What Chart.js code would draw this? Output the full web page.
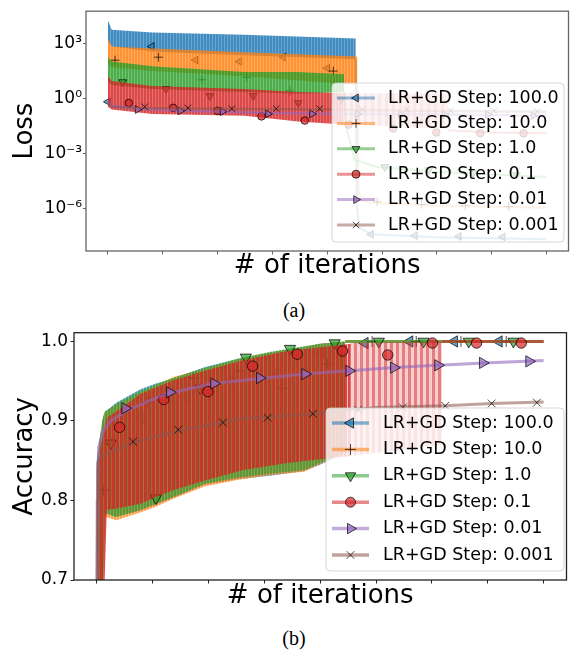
<!DOCTYPE html>
<html>
<head>
<meta charset="utf-8">
<script src="https://cdn.jsdelivr.net/npm/chart.js@4.4.1/dist/chart.umd.min.js"></script>
<style>
  body { margin: 0; background: #fff; }
  #fig { position: relative; width: 574px; height: 653px; overflow: hidden; }
  #lossChart { position: absolute; left: 0; top: 0; }
  #accChart { position: absolute; left: 0; top: 320px; }
  .cap { position: absolute; left: 0; width: 588px; text-align: center; font: 20px "Liberation Serif", "Times New Roman", serif; line-height: 24px; color: #000; }
</style>
</head>
<body>
<div id="fig">
  <canvas id="lossChart" width="574" height="282"></canvas>
  <div class="cap" style="top:298px">(a)</div>
  <canvas id="accChart" width="574" height="292"></canvas>
  <div class="cap" style="top:626px">(b)</div>
</div>
<script>
// ---- labels / ticks ----
const seriesLabels = ['LR+GD Step: 100.0', 'LR+GD Step: 10.0', 'LR+GD Step: 1.0',
                      'LR+GD Step: 0.1', 'LR+GD Step: 0.01', 'LR+GD Step: 0.001'];
const iterTicks = [0, 1, 2, 3, 4, 5, 6, 7, 8];
const lossTicks = [1e-6, 1e-3, 1, 1e3];
const lossTickLabels = ['10⁻⁶', '10⁻³', '10⁰', '10³'];
const accTicks = [0.7, 0.8, 0.9, 1.0];

// ---- (a) loss ----
const lossBlueBandX = [0, 0.07, 0.81, 2.49, 4.52];
const lossBlueHigh = [1.9e4, 6.0e3, 4.2e3, 3.2e3, 2.0e3];
const lossBlueLow = [1.4e3, 7.3e2, 3.9e2, 2.4e2, 1.45e2];
const lossBlueTailX = [4.52, 4.54, 4.58, 4.8, 6.0, 8.0];
const lossBlueTail = [1.45e2, 1.7e-6, 9.3e-8, 3.9e-8, 2.7e-8, 2.1e-8];
const lossBlueMarkX = [0, 0.8, 1.6, 2.4, 3.2, 4.0, 4.8, 5.6, 6.4, 7.2];
const lossBlueMark = [0.69, 7.3e2, 1.3e2, 1.1e2, 1.9e2, 4.7e1, 3.9e-8, 3.3e-8, 3.0e-8, 2.8e-8];

const lossOrangeBandX = [0, 0.07, 0.81, 2.49, 4.55];
const lossOrangeHigh = [2.0e3, 7.3e2, 5.7e2, 3.5e2, 2.1e2];
const lossOrangeLow = [8.9e1, 5.4e1, 3.3e1, 1.7e1, 5.7];
const lossOrangeTailX = [4.55, 4.57, 4.6, 4.8, 6.0, 8.0];
const lossOrangeTail = [5.7, 1.1e-5, 3.1e-6, 2.1e-6, 1.45e-6, 1.1e-6];
const lossOrangeMarkX = [0.13, 0.92, 1.71, 2.53, 3.32, 4.11, 4.91, 5.72, 6.52, 7.31];
const lossOrangeMark = [1.3e2, 1.9e2, 1.1e1, 1.5e1, 2.7, 3.3e1, 2.4e-6, 1.7e-6, 1.45e-6, 1.3e-6];

const lossGreenBandX = [0, 0.07, 0.81, 2.49, 3.47, 4.31];
const lossGreenHigh = [1.9e2, 1.1e2, 6.0e1, 2.9e1, 2.9e1, 2.2e1];
const lossGreenLow = [9.4, 5.7, 3.5, 2.4, 1.9, 2.4];
const lossGreenTailX = [4.31, 4.35, 4.5, 4.91, 6.0, 8.0];
const lossGreenTail = [2.4, 2.7e-2, 4.5e-4, 1.9e-4, 1.0e-4, 5.4e-5];
const lossGreenMarkX = [0.27, 1.06, 1.86, 2.65, 3.47, 4.26, 5.05, 5.85, 6.66, 7.45];
const lossGreenMark = [8.3, 3.5, 1.45, 1.45, 0.6, 0.9, 1.9e-4, 1.3e-4, 8.9e-5, 6.9e-5];

const lossRedBandX = [0, 0.07, 0.81, 2.49, 3.47, 4.3];
const lossRedHigh = [1.7e1, 9.4, 5.0, 3.5, 2.4, 2.1];
const lossRedLow = [0.37, 0.26, 0.15, 0.12, 5.7e-2, 3.9e-2];
const lossRedSparseX = [4.3, 6.2];
const lossRedSparseHigh = [2.1, 1.9];
const lossRedSparseLow = [3.9e-2, 2.4e-2];
const lossRedTailX = [6.2, 7.0, 8.0];
const lossRedTail = [1.9e-2, 1.45e-2, 1.3e-2];
const lossRedMarkX = [0.38, 1.19, 2.0, 2.8, 3.59, 4.39, 5.2, 5.99, 6.79, 7.58];
const lossRedMark = [0.6, 0.32, 0.22, 0.11, 6.5e-2, 3.9e-2, 2.4e-2, 1.45e-2, 1.3e-2, 1.3e-2];

const lossPurpleX = [0, 0.03, 0.07, 0.5, 1.5, 3.0, 4.5, 6.0, 8.0];
const lossPurple = [0.69, 0.54, 0.42, 0.29, 0.22, 0.17, 0.15, 0.14, 0.12];
const lossPurpleMarkX = [0.54, 1.32, 2.09, 2.92, 3.72, 4.55, 5.34, 6.14, 6.93, 7.76];
const lossPurpleMark = [0.26, 0.22, 0.2, 0.15, 0.15, 0.15, 0.14, 0.14, 0.14, 0.12];

const lossBrownX = [0, 0.03, 0.07, 0.5, 2.0, 4.0, 6.0, 8.0];
const lossBrown = [0.69, 0.48, 0.37, 0.32, 0.29, 0.26, 0.22, 0.2];
const lossBrownMarkX = [0.67, 1.46, 2.26, 3.07, 3.86, 4.64, 5.45, 6.25, 7.04, 7.83];
const lossBrownMark = [0.37, 0.32, 0.29, 0.29, 0.29, 0.26, 0.26, 0.22, 0.22, 0.2];

// ---- (b) accuracy ----
const accBandX = [0, 0.1, 0.14, 0.35, 0.78, 1.06, 1.36, 1.94, 2.54, 3.11, 3.71, 4.0, 4.45];
const accBlueHigh = [0.85, 0.9, 0.91, 0.923, 0.94, 0.947, 0.953, 0.968, 0.978, 0.986, 0.993, 0.997, 1.0];
const accBlueLow = [0.6, 0.6, 0.785, 0.78, 0.787, 0.795, 0.803, 0.82, 0.827, 0.831, 0.837, 0.845, 0.86];
const accOrangeHigh = [0.85, 0.9, 0.91, 0.92, 0.936, 0.945, 0.955, 0.966, 0.978, 0.986, 0.993, 0.997, 1.0];
const accOrangeLow = [0.6, 0.6, 0.78, 0.775, 0.785, 0.792, 0.802, 0.818, 0.826, 0.832, 0.836, 0.846, 0.86];
const accGreenHigh = [0.85, 0.9, 0.912, 0.922, 0.938, 0.946, 0.954, 0.967, 0.979, 0.987, 0.994, 0.997, 1.0];
const accGreenLow = [0.6, 0.6, 0.784, 0.779, 0.788, 0.796, 0.804, 0.821, 0.829, 0.834, 0.838, 0.847, 0.86];
const accTailX = [4.45, 8.0];
const accTail = [1.0, 1.0];

const accRedBandX = [0, 0.1, 0.18, 0.35, 0.78, 1.36, 1.94, 2.6, 3.41, 4.29, 4.55];
const accRedHigh = [0.84, 0.88, 0.904, 0.912, 0.934, 0.951, 0.963, 0.976, 0.988, 0.995, 0.997];
const accRedLow = [0.6, 0.6, 0.788, 0.79, 0.796, 0.813, 0.825, 0.838, 0.847, 0.854, 0.856];
const accRedSparseX = [4.55, 6.18];
const accRedSparseHigh = [0.998, 1.0];
const accRedSparseLow = [0.856, 0.87];
const accRedTailX = [6.18, 8.0];
const accRedTail = [1.0, 1.0];

const accBlueMarkX = [0, 0.8, 1.6, 2.4, 3.2, 4.0, 4.8, 5.6, 6.4, 7.2];
const accBlueMark = [0.6, 0.904, 0.93, 0.95, 0.96, 0.985, 0.998, 1.0, 1.0, 1.0];
const accOrangeMarkX = [0.12, 0.92, 1.73, 2.53, 3.32, 4.13, 4.93, 5.72, 6.52, 7.33];
const accOrangeMark = [0.813, 0.923, 0.954, 0.963, 0.941, 0.972, 1.0, 1.0, 1.0, 1.0];
const accGreenMarkX = [0.25, 1.06, 1.86, 2.67, 3.46, 4.26, 5.05, 5.85, 6.66, 7.46];
const accGreenMark = [0.872, 0.803, 0.941, 0.98, 0.991, 0.998, 1.0, 1.0, 1.0, 1.0];
const accRedMarkX = [0.41, 1.2, 1.99, 2.79, 3.59, 4.4, 5.21, 6.01, 6.8, 7.6];
const accRedMark = [0.892, 0.927, 0.937, 0.969, 0.984, 0.988, 0.983, 0.998, 0.998, 0.998];

const accPurpleX = [0, 0.02, 0.035, 0.12, 0.25, 0.53, 1.24, 2.07, 2.6, 3.71, 4.52, 5.48, 6.11, 6.94, 8.0];
const accPurple = [0.6, 0.825, 0.867, 0.888, 0.9, 0.913, 0.934, 0.947, 0.951, 0.959, 0.963, 0.968, 0.97, 0.973, 0.976];
const accPurpleMarkX = [0.51, 1.31, 2.1, 2.92, 3.73, 4.52, 5.32, 6.11, 6.91, 7.74];
const accPurpleMark = [0.916, 0.936, 0.947, 0.954, 0.959, 0.963, 0.967, 0.97, 0.973, 0.975];

const accBrownX = [0, 0.01, 0.02, 0.07, 0.18, 0.65, 1.48, 2.24, 2.6, 3.11, 3.88, 5.0, 6.24, 7.07, 8.0];
const accBrown = [0.6, 0.8, 0.847, 0.854, 0.859, 0.873, 0.888, 0.898, 0.903, 0.905, 0.909, 0.917, 0.919, 0.922, 0.924];
const accBrownMarkX = [0.65, 1.46, 2.26, 3.06, 3.87, 4.68, 5.48, 6.24, 7.07, 7.88];
const accBrownMark = [0.874, 0.889, 0.898, 0.904, 0.909, 0.914, 0.917, 0.919, 0.922, 0.923];

// ---- styles ----
const tab = ['31,119,180', '255,127,14', '44,160,44', '214,39,40', '148,103,189', '140,86,75'];
const markerStyles = [
  {style: 'triangle', rotation: -90},
  {style: 'cross', rotation: 0},
  {style: 'triangle', rotation: 180},
  {style: 'circle', rotation: 0},
  {style: 'triangle', rotation: 90},
  {style: 'crossRot', rotation: 0}
];
const FONT = '"DejaVu Sans", sans-serif';
Chart.defaults.font.family = FONT;

const rgba = (rgb, a) => `rgba(${rgb},${a})`;
const pts = (xs, ys) => xs.map((x, i) => ({x: x, y: ys[i]}));

// vertical stripe pattern, mimics the dense oscillating lines
function stripes(rgb, a1, a2, w1, w2) {
  const c = document.createElement('canvas');
  c.width = w1 + w2;
  c.height = 4;
  const g = c.getContext('2d');
  g.fillStyle = rgba(rgb, a1);
  g.fillRect(0, 0, w1, 4);
  g.fillStyle = rgba(rgb, a2);
  g.fillRect(w1, 0, w2, 4);
  return g.createPattern(c, 'repeat');
}

function bandSets(xs, hi, lo, pattern, order) {
  return [
    {data: pts(xs, hi), borderWidth: 0, borderColor: 'transparent', pointRadius: 0,
     backgroundColor: pattern, fill: '+1', order: order},
    {data: pts(xs, lo), borderWidth: 0, borderColor: 'transparent', pointRadius: 0,
     fill: false, order: order}
  ];
}
function lineSet(xs, ys, i, width, alpha, order) {
  return {data: pts(xs, ys), borderColor: rgba(tab[i], alpha), borderWidth: width,
          pointRadius: 0, fill: false, tension: 0, order: order};
}
function markerSet(xs, ys, i, radius, order) {
  const m = markerStyles[i];
  return {data: pts(xs, ys), showLine: false, pointStyle: m.style, pointRotation: m.rotation,
          pointRadius: radius[m.style], pointBackgroundColor: rgba(tab[i], 0.7),
          pointBorderColor: 'rgba(0,0,0,0.7)', pointBorderWidth: 1, order: order};
}

const frameBox = {
  id: 'frameBox',
  afterDatasetsDraw(chart, args, o) {
    const {ctx, chartArea: a} = chart;
    ctx.save();
    ctx.strokeStyle = o.color;
    ctx.lineWidth = o.width;
    ctx.strokeRect(a.left, a.top, a.right - a.left, a.bottom - a.top);
    ctx.restore();
  }
};

const boxLegend = {
  id: 'boxLegend',
  afterDraw(chart, args, o) {
    const ctx = chart.ctx;
    ctx.save();
    ctx.beginPath();
    if (ctx.roundRect) ctx.roundRect(o.x, o.y, o.w, o.h, 4);
    else ctx.rect(o.x, o.y, o.w, o.h);
    ctx.fillStyle = 'rgba(255,255,255,0.8)';
    ctx.fill();
    ctx.strokeStyle = 'rgba(204,204,204,0.8)';
    ctx.lineWidth = 1;
    ctx.stroke();
    seriesLabels.forEach((label, i) => {
      const y = o.y + o.first + i * o.rowH;
      ctx.strokeStyle = rgba(tab[i], o.lineAlpha);
      ctx.lineWidth = o.lineWidth;
      ctx.beginPath();
      ctx.moveTo(o.lineX0, y);
      ctx.lineTo(o.lineX1, y);
      ctx.stroke();
      const m = markerStyles[i];
      ctx.fillStyle = rgba(tab[i], 0.7);
      ctx.strokeStyle = 'rgba(0,0,0,0.7)';
      ctx.lineWidth = 1;
      Chart.helpers.drawPoint(ctx, {pointStyle: m.style, rotation: m.rotation,
        radius: o.radius[m.style], borderWidth: 1}, (o.lineX0 + o.lineX1) / 2, y);
      ctx.fillStyle = '#000';
      ctx.font = o.fontSize + 'px ' + FONT;
      ctx.textBaseline = 'middle';
      ctx.textAlign = 'left';
      ctx.fillText(label, o.textX, y);
    });
    ctx.restore();
  }
};

function axisTitle(text) {
  return {display: true, text: text, color: '#000', font: {size: 26, family: FONT}, padding: {top: 10, bottom: 0}};
}

// ---------- chart (a) ----------
const lossR = {triangle: 4.5, circle: 3.8, cross: 4.5, crossRot: 4.5};
const lossSets = [].concat(
  bandSets(lossBlueBandX, lossBlueHigh, lossBlueLow, stripes(tab[0], 0.85, 0.65, 2, 1), 99),
  [lineSet(lossBlueTailX, lossBlueTail, 0, 2, 0.55, 98), markerSet(lossBlueMarkX, lossBlueMark, 0, lossR, 97)],
  bandSets(lossOrangeBandX, lossOrangeHigh, lossOrangeLow, stripes(tab[1], 0.85, 0.65, 2, 1), 89),
  [lineSet(lossOrangeTailX, lossOrangeTail, 1, 2, 0.55, 88), markerSet(lossOrangeMarkX, lossOrangeMark, 1, lossR, 87)],
  bandSets(lossGreenBandX, lossGreenHigh, lossGreenLow, stripes(tab[2], 0.85, 0.65, 2, 1), 79),
  [lineSet(lossGreenTailX, lossGreenTail, 2, 2, 0.55, 78), markerSet(lossGreenMarkX, lossGreenMark, 2, lossR, 77)],
  bandSets(lossRedBandX, lossRedHigh, lossRedLow, stripes(tab[3], 0.85, 0.65, 2, 1), 69),
  bandSets(lossRedSparseX, lossRedSparseHigh, lossRedSparseLow, stripes(tab[3], 0.55, 0.25, 3, 4), 69),
  [lineSet(lossRedTailX, lossRedTail, 3, 2, 0.55, 68), markerSet(lossRedMarkX, lossRedMark, 3, lossR, 67)],
  [lineSet(lossPurpleX, lossPurple, 4, 2.5, 0.6, 58), markerSet(lossPurpleMarkX, lossPurpleMark, 4, lossR, 57)],
  [lineSet(lossBrownX, lossBrown, 5, 2.5, 0.55, 48), markerSet(lossBrownMarkX, lossBrownMark, 5, lossR, 47)]
);

new Chart(document.getElementById('lossChart'), {
  type: 'line',
  data: {datasets: lossSets},
  options: {
    responsive: false,
    animation: false,
    events: [],
    layout: {padding: {top: 9, right: 1, left: 0, bottom: 0}},
    plugins: {
      legend: {display: false},
      tooltip: {enabled: false},
      frameBox: {color: '#666', width: 1.3},
      boxLegend: {x: 332, y: 83, w: 232, h: 159, first: 15, rowH: 25.4,
                  lineX0: 337, lineX1: 375, textX: 388, fontSize: 17.5,
                  lineWidth: 3, lineAlpha: 0.5,
                  radius: {triangle: 4.5, circle: 4, cross: 4.5, crossRot: 4.5}}
    },
    scales: {
      x: {
        type: 'linear', min: -0.4, max: 8.4,
        afterBuildTicks: s => { s.ticks = iterTicks.map(v => ({value: v})); },
        ticks: {display: false},
        grid: {drawOnChartArea: false, tickLength: 3.5, color: '#666'},
        border: {display: false},
        title: Object.assign(axisTitle('# of iterations'), {padding: {top: 0, bottom: 0}}),
        afterFit: s => { s.height = 31; }
      },
      y: {
        type: 'logarithmic', min: 4.8e-9, max: 6.2e4,
        afterBuildTicks: s => { s.ticks = lossTicks.map(v => ({value: v})); },
        ticks: {autoSkip: false, color: '#000', font: {size: 17}, padding: 1,
                callback: (v, i) => lossTickLabels[i]},
        grid: {drawOnChartArea: false, tickLength: 3, color: '#666'},
        border: {display: false},
        title: axisTitle('Loss'),
        afterFit: s => { s.width = 86; }
      }
    }
  },
  plugins: [frameBox, boxLegend]
});

// ---------- chart (b) ----------
const accR = {triangle: 6.5, circle: 5.2, cross: 5.5, crossRot: 5.5};
const accSets = [].concat(
  bandSets(accBandX, accBlueHigh, accBlueLow, stripes(tab[0], 0.75, 0.45, 2, 1), 99),
  [lineSet(accTailX, accTail, 0, 3, 0.55, 98), markerSet(accBlueMarkX, accBlueMark, 0, accR, 97)],
  bandSets(accBandX, accOrangeHigh, accOrangeLow, stripes(tab[1], 0.75, 0.45, 2, 1), 89),
  [lineSet(accTailX, accTail, 1, 3, 0.55, 88), markerSet(accOrangeMarkX, accOrangeMark, 1, accR, 87)],
  bandSets(accBandX, accGreenHigh, accGreenLow, stripes(tab[2], 0.7, 0.4, 2, 1), 79),
  [lineSet(accTailX, accTail, 2, 3, 0.55, 78), markerSet(accGreenMarkX, accGreenMark, 2, accR, 77)],
  bandSets(accRedBandX, accRedHigh, accRedLow, stripes(tab[3], 0.85, 0.3, 3, 1), 69),
  bandSets(accRedSparseX, accRedSparseHigh, accRedSparseLow, stripes(tab[3], 0.6, 0.22, 3, 3), 69),
  [lineSet(accRedTailX, accRedTail, 3, 3, 0.55, 68), markerSet(accRedMarkX, accRedMark, 3, accR, 67)],
  [lineSet(accPurpleX, accPurple, 4, 3, 0.6, 58), markerSet(accPurpleMarkX, accPurpleMark, 4, accR, 57)],
  [lineSet(accBrownX, accBrown, 5, 3, 0.55, 48), markerSet(accBrownMarkX, accBrownMark, 5, accR, 47)]
);

new Chart(document.getElementById('accChart'), {
  type: 'line',
  data: {datasets: accSets},
  options: {
    responsive: false,
    animation: false,
    events: [],
    layout: {padding: {top: 12, right: 1, left: 0, bottom: 0}},
    plugins: {
      legend: {display: false},
      tooltip: {enabled: false},
      frameBox: {color: '#222', width: 1.3},
      boxLegend: {x: 326, y: 88, w: 238, h: 163, first: 15, rowH: 26.4,
                  lineX0: 332, lineX1: 369, textX: 383, fontSize: 17.5,
                  lineWidth: 3.5, lineAlpha: 0.55,
                  radius: {triangle: 6, circle: 5, cross: 5.5, crossRot: 5.5}}
    },
    scales: {
      x: {
        type: 'linear', min: -0.406, max: 8.41,
        afterBuildTicks: s => { s.ticks = iterTicks.map(v => ({value: v})); },
        ticks: {display: false},
        grid: {drawOnChartArea: false, tickLength: 3.5, color: '#222'},
        border: {display: false},
        title: Object.assign(axisTitle('# of iterations'), {padding: {top: 0, bottom: 0}}),
        afterFit: s => { s.height = 32; }
      },
      y: {
        type: 'linear', min: 0.7, max: 1.011,
        afterBuildTicks: s => { s.ticks = accTicks.map(v => ({value: v})); },
        ticks: {autoSkip: false, color: '#000', font: {size: 17}, padding: 2.5,
                callback: v => v.toFixed(1)},
        grid: {drawOnChartArea: false, tickLength: 3.5, color: '#222'},
        border: {display: false},
        title: axisTitle('Accuracy'),
        afterFit: s => { s.width = 74; }
      }
    }
  },
  plugins: [frameBox, boxLegend]
});
</script>
</body>
</html>
